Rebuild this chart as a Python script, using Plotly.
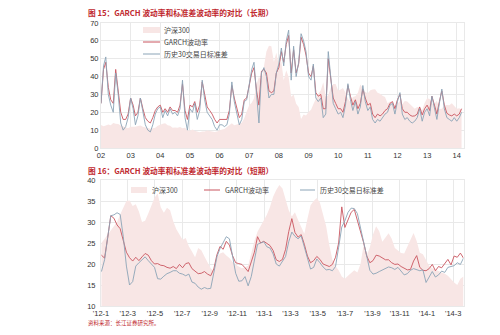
import pandas as pd
import plotly.graph_objects as go

# ---------- Long-term panel (monthly, 2002-01 .. 2014-03) ----------
long_dates = pd.date_range("2002-01-01", periods=147, freq="MS")

# CSI 300 index level / 100
long_hs300 = [
    12.9, 12.2, 12.6, 13.1, 12.7, 14.0, 13.6, 13.4, 12.6, 12.1, 11.5, 11.0,
    11.9, 11.8, 11.9, 12.3, 12.6, 11.9, 11.7, 11.2, 10.8, 10.9, 11.3, 12.4,
    13.2, 13.6, 13.9, 12.8, 12.5, 11.3, 11.5, 11.3, 11.8, 11.1, 11.3, 10.0,
    9.6, 10.4, 9.6, 9.4, 8.8, 9.2, 9.2, 9.8, 9.5, 9.0, 9.0, 9.2,
    10.0, 10.4, 10.6, 11.8, 13.2, 13.9, 12.8, 13.0, 13.6, 14.1, 16.6, 20.4,
    24.0, 25.3, 27.8, 35.5, 39.9, 37.4, 45.1, 54.0, 57.3, 57.0, 48.2, 53.4,
    46.4, 48.3, 37.9, 43.6, 39.7, 28.7, 29.9, 24.8, 22.9, 16.2, 18.7, 18.2,
    20.2, 21.4, 24.5, 27.5, 30.4, 32.4, 36.8, 28.9, 29.5, 33.8, 35.9, 35.8,
    32.0, 32.8, 33.6, 31.0, 27.6, 25.6, 28.6, 29.0, 31.0, 35.6, 33.5, 31.3,
    30.7, 32.3, 32.7, 32.9, 30.9, 30.4, 29.3, 28.5, 25.1, 26.1, 25.3, 23.5,
    24.6, 26.3, 24.5, 26.3, 26.1, 24.6, 23.3, 22.0, 22.9, 22.5, 21.3, 25.2,
    27.9, 27.5, 24.9, 24.8, 26.5, 21.8, 22.0, 24.0, 24.1, 24.0, 25.0, 23.3,
    22.0, 22.2, 21.5,
]

long_garch = [
    25, 44, 48, 34, 27, 25, 44, 33, 20, 16, 16, 19,
    28, 24, 18, 20, 28, 22, 17, 15, 14, 17, 21, 23,
    24, 20, 22, 20, 23, 21, 21, 20, 24, 36, 21, 16,
    24, 23, 26, 20, 24, 37, 30, 23, 21, 19, 16, 14,
    16, 16, 16, 16, 21, 35, 28, 22, 17, 19, 27, 28,
    35, 42, 45, 32, 24, 43, 44, 42, 32, 31, 32, 42,
    45, 54, 48, 58, 63, 42, 55, 42, 47, 62, 58, 52,
    42, 40, 46, 31, 29, 30, 22, 22, 50, 40, 28, 25,
    22, 22, 20, 26, 35, 29, 24, 27, 22, 25, 33, 28,
    24, 25, 19, 17, 19, 18, 19, 21, 22, 25, 26, 22,
    27, 30, 22, 20, 20, 18.5, 17.8, 18, 19, 23, 18.5, 22,
    24, 21, 29, 24, 19, 26, 32, 24, 19.5, 18.5, 18, 19,
    18, 19, 22,
]

long_hist30 = [
    25, 46, 51, 30, 24, 20, 42, 30, 14, 10, 12, 17,
    28, 22, 13, 18, 28, 20, 13, 10, 9, 13, 19, 22,
    23, 17, 21, 18, 22, 19, 20, 18, 22, 38, 17, 10,
    22, 20, 25, 16, 21, 38, 27, 20, 18, 16, 12, 10,
    13, 13, 12, 13, 19, 37, 26, 19, 13, 16, 26, 27,
    35, 44, 48, 30, 14, 42, 45, 40, 28, 30, 30, 42,
    47, 56, 46, 60, 66, 38, 57, 40, 48, 64, 60, 54,
    40, 38, 47, 28, 26, 28, 17, 19, 54, 40, 25, 22,
    19, 20, 17, 24, 36, 27, 21, 26, 19, 23, 35, 26,
    21, 23, 16, 14, 16, 15, 17, 19, 20, 24, 25, 19,
    26, 31, 19, 16, 17, 15, 14, 15, 17, 22, 15, 20,
    22, 18, 29, 22, 16, 25, 33, 22, 17, 16, 15, 17,
    15, 17, 20,
]

long_years = pd.date_range("2002-01-01", "2014-01-01", freq="YS")
long_year_labels = ["02", "03", "04", "05", "06", "07", "08", "09", "10", "11", "12", "13", "14"]

# ---------- Short-term panel (weekly, 2012-01 .. 2014-03) ----------
short_dates = pd.date_range("2012-01-02", periods=117, freq="7D")

short_hs300 = [
    25.0, 26.0, 27.0, 28.0, 28.8, 30.0, 31.8, 33.5, 35.0, 35.1, 33.8, 34.2,
    32.5, 30.0, 30.3, 32.0, 34.0, 35.8, 36.8, 33.5, 32.2, 33.4, 32.8, 30.2,
    28.3, 27.2, 25.8, 26.2, 24.2, 23.0, 21.6, 23.8, 23.3, 21.8, 20.4, 19.0,
    18.4, 21.6, 22.5, 22.8, 22.0, 21.4, 20.5, 19.8, 19.4, 19.0, 19.2, 19.6,
    22.5, 25.5, 27.7, 29.0, 30.3, 31.7, 33.6, 36.0, 37.6, 38.8, 38.0, 35.6,
    32.8, 31.3, 32.3, 30.5, 29.0, 27.2, 30.8, 34.0, 35.0, 35.7, 34.6, 32.0,
    29.0, 24.5, 21.0, 19.5, 18.5, 17.0, 16.5, 17.2, 17.8, 18.5, 18.0, 20.0,
    24.5, 22.0, 24.0, 27.0, 29.0, 27.8, 25.3, 26.2, 27.3, 26.0, 23.8, 23.2,
    22.6, 22.5, 24.2, 25.6, 27.4, 25.5, 22.7, 22.3, 21.0, 19.6, 19.0, 18.7,
    18.3, 18.0, 17.7, 17.2, 16.3, 15.6, 15.0, 16.5, 17.0,
]

short_garch = [
    22.1, 21.4, 26.3, 31.5, 30.9, 29.3, 28.4, 25.8, 22.8, 21.5, 20.7, 21.6,
    20.8, 21.7, 22.5, 22.1, 20.8, 20.0, 20.1, 19.7, 19.6, 19.2, 19.0, 19.4,
    18.9, 19.9, 19.1, 20.1, 20.3, 18.9, 18.3, 17.7, 17.8, 18.2, 17.6, 17.2,
    18.8, 22.2, 24.2, 23.5, 25.4, 24.5, 22.0, 20.3, 20.1, 19.9, 19.1, 18.2,
    20.5, 22.8, 26.5, 25.0, 25.4, 25.0, 24.4, 23.2, 21.0, 20.6, 21.1, 23.5,
    27.7, 30.8, 27.5, 26.4, 27.0, 24.7, 21.9, 20.3, 20.8, 21.8, 21.1, 20.0,
    19.7, 19.4, 19.9, 21.6, 25.0, 33.6, 28.7, 30.4, 32.3, 33.0, 30.4, 27.6,
    25.1, 21.9, 20.3, 20.8, 22.1, 21.9, 21.4, 21.0, 21.0, 20.3, 19.9, 20.0,
    19.4, 19.0, 18.6, 18.7, 20.7, 22.0, 19.2, 18.5, 18.4, 18.9, 19.9, 18.4,
    19.4, 19.1, 20.1, 21.1, 19.8, 21.9, 21.6, 22.6, 21.4,
]

short_hist30 = [
    18.2, 21.0, 26.3, 31.5, 31.7, 32.2, 31.8, 26.5, 19.5, 15.0, 15.8, 19.5,
    20.3, 21.0, 21.7, 20.8, 19.9, 19.2, 16.5, 16.4, 17.1, 17.7, 18.0, 18.4,
    18.4, 17.8, 17.6, 17.2, 17.6, 15.7, 15.4, 14.5, 14.0, 14.4, 14.1, 14.2,
    17.9, 21.7, 23.7, 25.3, 26.5, 26.0, 21.4, 17.8, 15.9, 16.0, 17.0, 14.8,
    17.0, 20.8, 24.7, 25.0, 25.3, 24.1, 23.8, 22.4, 20.0, 19.5, 20.7, 21.8,
    25.3, 27.6, 26.6, 26.0, 26.7, 24.0, 21.1, 18.8, 19.2, 21.2, 20.3, 19.3,
    18.6, 18.7, 18.4, 19.4, 24.0, 28.8, 30.3, 32.3, 33.3, 33.2, 32.0, 28.7,
    25.3, 21.3, 18.5, 17.6, 17.8, 18.2, 18.6, 19.0, 19.3, 19.1, 18.7, 19.2,
    18.2, 17.4, 17.7, 18.5, 18.9, 18.6, 18.4, 18.6, 15.6, 16.9, 18.2, 16.9,
    17.4, 18.3, 18.0, 19.2, 19.4, 19.6, 20.3, 19.9, 21.4,
]

short_ticks = pd.date_range("2012-01-01", "2014-03-01", freq="2MS")
short_tick_labels = ["'12-1", "'12-3", "'12-5", "'12-7", "'12-9", "'12-11",
                     "'13-1", "'13-3", "'13-5", "'13-7", "'13-9", "'13-11",
                     "'14-1", "'14-3"]

series_names = ["沪深300", "GARCH波动率", "历史30交易日标准差"]

# ---------- styling ----------
RED = "#c9555f"
BLUE = "#8ba4b7"
AREA = "#f8e6e5"
TITLE_RED = "#c0282e"
CJK = "Noto Sans CJK SC, Liberation Sans, sans-serif"
NUM = "Liberation Sans, Arial, sans-serif"
GRID = "#e9e9e9"
LW = 0.9

fig = go.Figure()

# long-term panel
fig.add_trace(go.Scatter(x=long_dates, y=long_hs300, name=series_names[0], mode="lines",
                         fill="tozeroy", fillcolor=AREA, line=dict(width=0, color=AREA),
                         xaxis="x", yaxis="y"))
fig.add_trace(go.Scatter(x=long_dates, y=long_garch, name=series_names[1], mode="lines",
                         line=dict(width=LW, color=RED), xaxis="x", yaxis="y"))
fig.add_trace(go.Scatter(x=long_dates, y=long_hist30, name=series_names[2], mode="lines",
                         line=dict(width=LW, color=BLUE), xaxis="x", yaxis="y"))

# short-term panel
fig.add_trace(go.Scatter(x=short_dates, y=short_hs300, name=series_names[0], mode="lines",
                         fill="tozeroy", fillcolor=AREA, line=dict(width=0, color=AREA),
                         xaxis="x2", yaxis="y2"))
fig.add_trace(go.Scatter(x=short_dates, y=short_garch, name=series_names[1], mode="lines",
                         line=dict(width=LW, color=RED), xaxis="x2", yaxis="y2"))
fig.add_trace(go.Scatter(x=short_dates, y=short_hist30, name=series_names[2], mode="lines",
                         line=dict(width=LW, color=BLUE), xaxis="x2", yaxis="y2"))

W, H = 500, 335
def px_x(p):
    return p / W
def px_y(p):
    return 1 - p / H

axis_common = dict(showgrid=True, gridcolor=GRID, gridwidth=1, zeroline=False,
                   showline=True, linecolor=GRID, mirror=True, ticks="",
                   automargin=False,
                   tickfont=dict(family=NUM, size=7.5, color="#333333"))

annotations = [
    dict(text="<b>图 15：GARCH 波动率和标准差波动率的对比（长期）</b>",
         x=px_x(86), y=px_y(12), xref="paper", yref="paper",
         xanchor="left", yanchor="middle", showarrow=False,
         font=dict(family=CJK, size=7.7, color=TITLE_RED)),
    dict(text="<b>图 16：GARCH 波动率和标准差波动率的对比（短期）</b>",
         x=px_x(86), y=px_y(170), xref="paper", yref="paper",
         xanchor="left", yanchor="middle", showarrow=False,
         font=dict(family=CJK, size=7.7, color=TITLE_RED)),
    dict(text="资料来源：长江证券研究所。",
         x=px_x(86), y=px_y(323), xref="paper", yref="paper",
         xanchor="left", yanchor="middle", showarrow=False,
         font=dict(family=CJK, size=5.5, color=TITLE_RED)),
]
shapes = []

def add_key(items):
    """items: (kind, color, swatch x0, swatch x1, text x, y) in pixels"""
    for (kind, color, x0, x1, tx, y), name in zip(items, series_names):
        if kind == "area":
            shapes.append(dict(type="rect", xref="paper", yref="paper",
                               x0=px_x(x0), x1=px_x(x1), y0=px_y(y + 3), y1=px_y(y - 3),
                               fillcolor=color, line=dict(width=0)))
        else:
            shapes.append(dict(type="line", xref="paper", yref="paper",
                               x0=px_x(x0), x1=px_x(x1), y0=px_y(y), y1=px_y(y),
                               line=dict(color=color, width=1)))
        annotations.append(dict(text=name, x=px_x(tx), y=px_y(y), xref="paper", yref="paper",
                                xanchor="left", yanchor="middle", showarrow=False,
                                font=dict(family=CJK, size=7, color="#444444")))

# vertical key, long-term panel
add_key([("area", AREA, 143, 160, 162, 30),
         ("line", RED, 143, 160, 162, 42),
         ("line", BLUE, 143, 160, 162, 54)])
# horizontal key, short-term panel
add_key([("area", AREA, 131, 147, 150, 190),
         ("line", RED, 204, 220, 223, 190),
         ("line", BLUE, 300, 315, 318, 190)])

fig.update_layout(
    width=W, height=H,
    margin=dict(l=0, r=0, t=0, b=0),
    paper_bgcolor="white", plot_bgcolor="white",
    showlegend=False,
    xaxis=dict(domain=[px_x(101), px_x(463.5)], anchor="y", type="date",
               range=["2002-01-01", "2014-03-25"],
               tickmode="array", tickvals=long_years, ticktext=long_year_labels,
               **axis_common),
    yaxis=dict(domain=[px_y(148), px_y(23)], anchor="x", range=[0, 70],
               tickmode="array", tickvals=[0, 10, 20, 30, 40, 50, 60, 70],
               **axis_common),
    xaxis2=dict(domain=[px_x(101), px_x(463.5)], anchor="y2", type="date",
                range=["2012-01-01", "2014-03-24"],
                tickmode="array", tickvals=short_ticks, ticktext=short_tick_labels,
                ticklabelstandoff=0,
                **axis_common),
    yaxis2=dict(domain=[px_y(306), px_y(180)], anchor="x2", range=[10, 40],
                tickmode="array", tickvals=[10, 15, 20, 25, 30, 35, 40],
                ticklabelstandoff=3,
                **axis_common),
    annotations=annotations,
    shapes=shapes,
)

fig.write_html("out.html")
